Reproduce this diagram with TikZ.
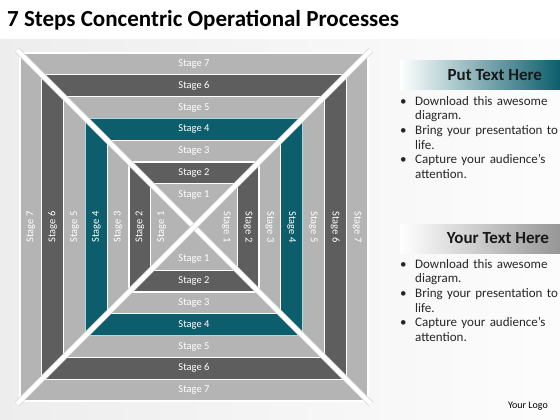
\documentclass[tikz,border=0pt]{standalone}
\usepackage{fontspec}
\setmainfont{Carlito}
\usetikzlibrary{positioning}
\definecolor{stagelight}{RGB}{180,180,180}
\definecolor{stagedark}{RGB}{94,94,94}
\definecolor{stageteal}{RGB}{12,94,108}
\definecolor{tealedge}{RGB}{168,218,226}
\definecolor{headgray}{RGB}{150,150,150}
\tikzstyle{band} = [rectangle, draw=white, line width=1.2pt, inner sep=0pt, outer sep=0pt]
\tikzstyle{light band} = [band, fill=stagelight]
\tikzstyle{dark band} = [band, fill=stagedark]
\tikzstyle{teal band} = [band, fill=stageteal, draw=tealedge]
\tikzstyle{stage} = [text=white, font=\fontsize{10.5}{12}\selectfont, inner sep=0pt]
\tikzstyle{beam} = [draw=gray!35, line width=0.8pt, double=white, double distance=4.4pt, shorten >=-4pt, shorten <=-4pt]
\tikzstyle{head bar} = [rectangle, minimum width=160pt, minimum height=29pt, inner sep=0pt]
\tikzstyle{head text} = [font=\fontsize{17}{20}\selectfont\bfseries, text=black!90, inner sep=0pt, anchor=east]
\tikzstyle{bullets} = [font=\fontsize{13}{14.6}\selectfont, text=black!85, text width=160pt, align=left, inner sep=0pt, anchor=north west, execute at begin node={\hyphenpenalty=10000}]
\newcommand{\pitem}[1]{\noindent\hangindent=15pt\hangafter=1\makebox[15pt][l]{\textbullet}#1\par}

\begin{document}
\begin{tikzpicture}[x=1pt, y=-1pt]
  \useasboundingbox (0,0) rectangle (560,420);
  \shade[left color=gray!14, right color=gray!2] (0,40) rectangle (560,420);
  \node[anchor=west, inner sep=0pt, font=\fontsize{23}{26}\selectfont\bfseries] (title) at (7,20) {7 Steps Concentric Operational Processes};
  % stage 7
  \node[light band, line width=2pt, minimum size=348pt] (s7) at (194,227) {};
  \node[stage] (s7t) at ([yshift=-10.9pt]s7.north) {Stage 7};
  \node[stage] (s7b) at ([yshift=10.9pt]s7.south) {Stage 7};
  \node[stage, rotate=90] (s7l) at ([xshift=10.9pt]s7.west) {Stage 7};
  \node[stage, rotate=-90] (s7r) at ([xshift=-10.9pt]s7.east) {Stage 7};
  % stage 6
  \node[dark band, minimum size=304.4pt] (s6) at (194,227) {};
  \node[stage] (s6t) at ([yshift=-10.9pt]s6.north) {Stage 6};
  \node[stage] (s6b) at ([yshift=10.9pt]s6.south) {Stage 6};
  \node[stage, rotate=90] (s6l) at ([xshift=10.9pt]s6.west) {Stage 6};
  \node[stage, rotate=-90] (s6r) at ([xshift=-10.9pt]s6.east) {Stage 6};
  % stage 5
  \node[light band, minimum size=260.8pt] (s5) at (194,227) {};
  \node[stage] (s5t) at ([yshift=-10.9pt]s5.north) {Stage 5};
  \node[stage] (s5b) at ([yshift=10.9pt]s5.south) {Stage 5};
  \node[stage, rotate=90] (s5l) at ([xshift=10.9pt]s5.west) {Stage 5};
  \node[stage, rotate=-90] (s5r) at ([xshift=-10.9pt]s5.east) {Stage 5};
  % stage 4
  \node[teal band, minimum size=217.2pt] (s4) at (194,227) {};
  \node[stage] (s4t) at ([yshift=-10.9pt]s4.north) {Stage 4};
  \node[stage] (s4b) at ([yshift=10.9pt]s4.south) {Stage 4};
  \node[stage, rotate=90] (s4l) at ([xshift=10.9pt]s4.west) {Stage 4};
  \node[stage, rotate=-90] (s4r) at ([xshift=-10.9pt]s4.east) {Stage 4};
  % stage 3
  \node[light band, minimum size=173.6pt] (s3) at (194,227) {};
  \node[stage] (s3t) at ([yshift=-10.9pt]s3.north) {Stage 3};
  \node[stage] (s3b) at ([yshift=10.9pt]s3.south) {Stage 3};
  \node[stage, rotate=90] (s3l) at ([xshift=10.9pt]s3.west) {Stage 3};
  \node[stage, rotate=-90] (s3r) at ([xshift=-10.9pt]s3.east) {Stage 3};
  % stage 2
  \node[dark band, minimum size=130pt] (s2) at (194,227) {};
  \node[stage] (s2t) at ([yshift=-10.9pt]s2.north) {Stage 2};
  \node[stage] (s2b) at ([yshift=10.9pt]s2.south) {Stage 2};
  \node[stage, rotate=90] (s2l) at ([xshift=10.9pt]s2.west) {Stage 2};
  \node[stage, rotate=-90] (s2r) at ([xshift=-10.9pt]s2.east) {Stage 2};
  % stage 1
  \node[light band, minimum size=86.4pt] (s1) at (194,227) {};
  \node[stage] (s1t) at ([yshift=-10.9pt]s1.north) {Stage 1};
  \node[stage] (s1b) at ([yshift=10.9pt]s1.south) {Stage 1};
  \node[stage, rotate=90] (s1l) at ([xshift=10.9pt]s1.west) {Stage 1};
  \node[stage, rotate=-90] (s1r) at ([xshift=-10.9pt]s1.east) {Stage 1};
  % diagonals
  \draw[beam] (s7.north west) -- (s7.south east);
  \draw[beam] (s7.north east) -- (s7.south west);
  % text panels
  \node[head bar, left color=white, right color=stageteal] (head1) at (480,75) {};
  \node[head text] (head1txt) at ([xshift=-18pt]head1.east) {Put Text Here};
  \node[bullets] (list1) at (400,96) {\pitem{Download this awesome diagram.}\pitem{Bring your presentation to life.}\pitem{Capture your audience’s attention.}};
  \node[head bar, left color=white, right color=headgray] (head2) at (480,238.5) {};
  \node[head text] (head2txt) at ([xshift=-11pt]head2.east) {Your Text Here};
  \node[bullets] (list2) at (400,259) {\pitem{Download this awesome diagram.}\pitem{Bring your presentation to life.}\pitem{Capture your audience’s attention.}};
  \node[anchor=east, inner sep=0pt, font=\fontsize{10}{12}\selectfont] (logo) at (548,406) {Your Logo};
\end{tikzpicture}
\end{document}
